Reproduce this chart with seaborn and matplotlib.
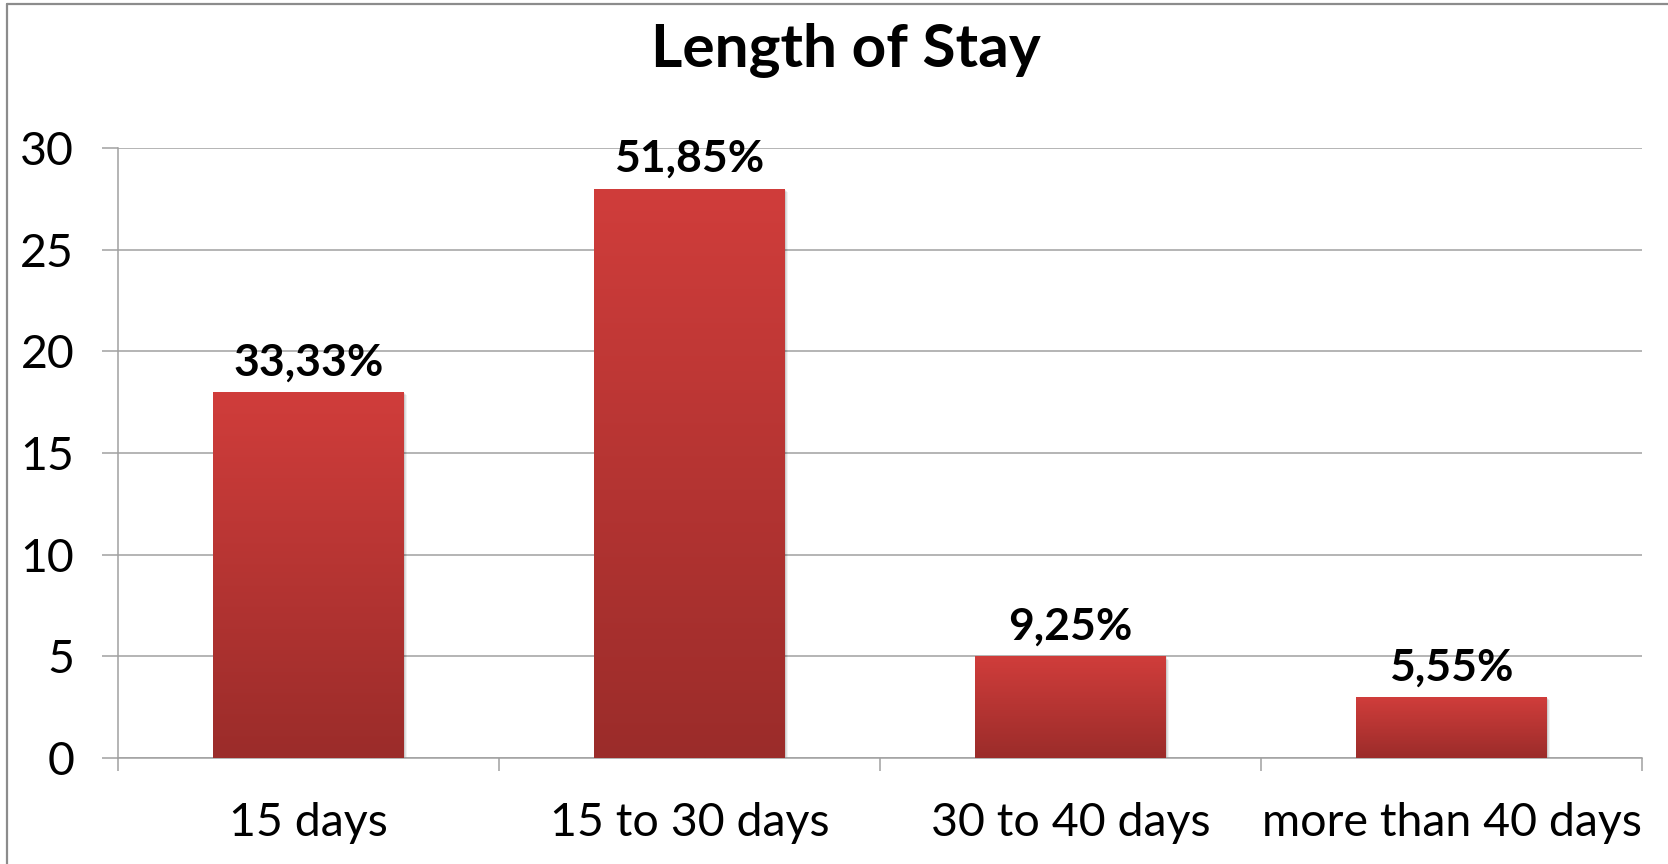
import numpy as np
import matplotlib
matplotlib.use("Agg")
import matplotlib.pyplot as plt
import matplotlib.transforms as mtransforms
from matplotlib.colors import LinearSegmentedColormap
from matplotlib.lines import Line2D
from matplotlib.patches import Rectangle
import seaborn as sns

# Patients by length of stay, with the share each group represents
categories = ["15 days", "15 to 30 days", "30 to 40 days", "more than 40 days"]
patients = [18, 28, 5, 3]
share_labels = ["33,33%", "51,85%", "9,25%", "5,55%"]
y_ticks = [0, 5, 10, 15, 20, 25, 30]

GRID = "#A0A0A0"
BAR_TOP = "#D03D3B"
BAR_BOTTOM = "#9B2C2A"

sns.set_theme(style="white")
plt.rcParams["font.family"] = ["Lato", "DejaVu Sans"]

W, H = 1668, 864
fig = plt.figure(figsize=(W / 100, H / 100), dpi=100)
ax = fig.add_axes([118 / W, 106 / H, (1642 - 118) / W, (758 - 148) / H])

sns.barplot(x=categories, y=patients, ax=ax, width=0.5,
            color=BAR_TOP, saturation=1, zorder=3)

# vertical gradient fill for each bar, plus a faint drop shadow
grad_cmap = LinearSegmentedColormap.from_list("bar", [BAR_BOTTOM, BAR_TOP])
grad = np.linspace(0, 1, 256).reshape(-1, 1)
for patch in list(ax.patches):
    x0, y0 = patch.get_x(), patch.get_y()
    w, h = patch.get_width(), patch.get_height()
    for k, a in [(3, 0.05), (2, 0.07), (1, 0.09)]:
        off = mtransforms.offset_copy(ax.transData, fig=fig, x=k * 0.8, y=-k * 0.8, units="points")
        ax.add_patch(Rectangle((x0, y0), w, h, transform=off, facecolor="black",
                               edgecolor="none", alpha=a, zorder=2))
    patch.set_facecolor("none")
    patch.set_edgecolor("none")
    im = ax.imshow(grad, extent=[x0, x0 + w, y0, y0 + h], origin="lower",
                   cmap=grad_cmap, aspect="auto", zorder=3, interpolation="bilinear")
    im.set_clip_path(patch)

ax.set_xlim(-0.5, len(categories) - 0.5)
ax.set_ylim(0, 30)
ax.set_yticks(y_ticks)
ax.set_xlabel("")
ax.set_ylabel("")

# gridlines and axes
ax.yaxis.grid(True, color=GRID, linewidth=1.1)
ax.set_axisbelow(True)
for side in ["top", "right"]:
    ax.spines[side].set_visible(False)
for side in ["left", "bottom"]:
    ax.spines[side].set_color(GRID)
    ax.spines[side].set_linewidth(1.1)

ax.tick_params(axis="y", left=True, direction="out", length=11.5, width=1.1,
               color=GRID, labelsize=33.5, pad=20, labelcolor="black")
ax.set_xticks(np.arange(len(categories)))
ax.set_xticks(np.arange(len(categories) + 1) - 0.5, minor=True)
ax.tick_params(axis="x", which="major", bottom=True, length=0, labelsize=33.5,
               pad=32, labelcolor="black")
ax.tick_params(axis="x", which="minor", bottom=True, direction="out",
               length=9, width=1.1, color=GRID)

# value labels above each bar
for i, (v, lbl) in enumerate(zip(patients, share_labels)):
    ax.annotate(lbl, (i, v), xytext=(0, 7), textcoords="offset points",
                ha="center", va="bottom", fontsize=32, fontweight="bold",
                color="black", zorder=5)

fig.text(846 / W, 1 - 50 / H, "Length of Stay", ha="center", va="center",
         fontsize=43.5, fontweight="bold", color="black")

# chart-area frame on the left and top edges
fig.add_artist(Line2D([7 / W, 7 / W], [0, 1 - 4 / H], transform=fig.transFigure,
                      color="#8C8C8C", linewidth=1.6))
fig.add_artist(Line2D([7 / W, 1], [1 - 4 / H, 1 - 4 / H], transform=fig.transFigure,
                      color="#8C8C8C", linewidth=1.6))

fig.savefig("out.png", dpi=100)
